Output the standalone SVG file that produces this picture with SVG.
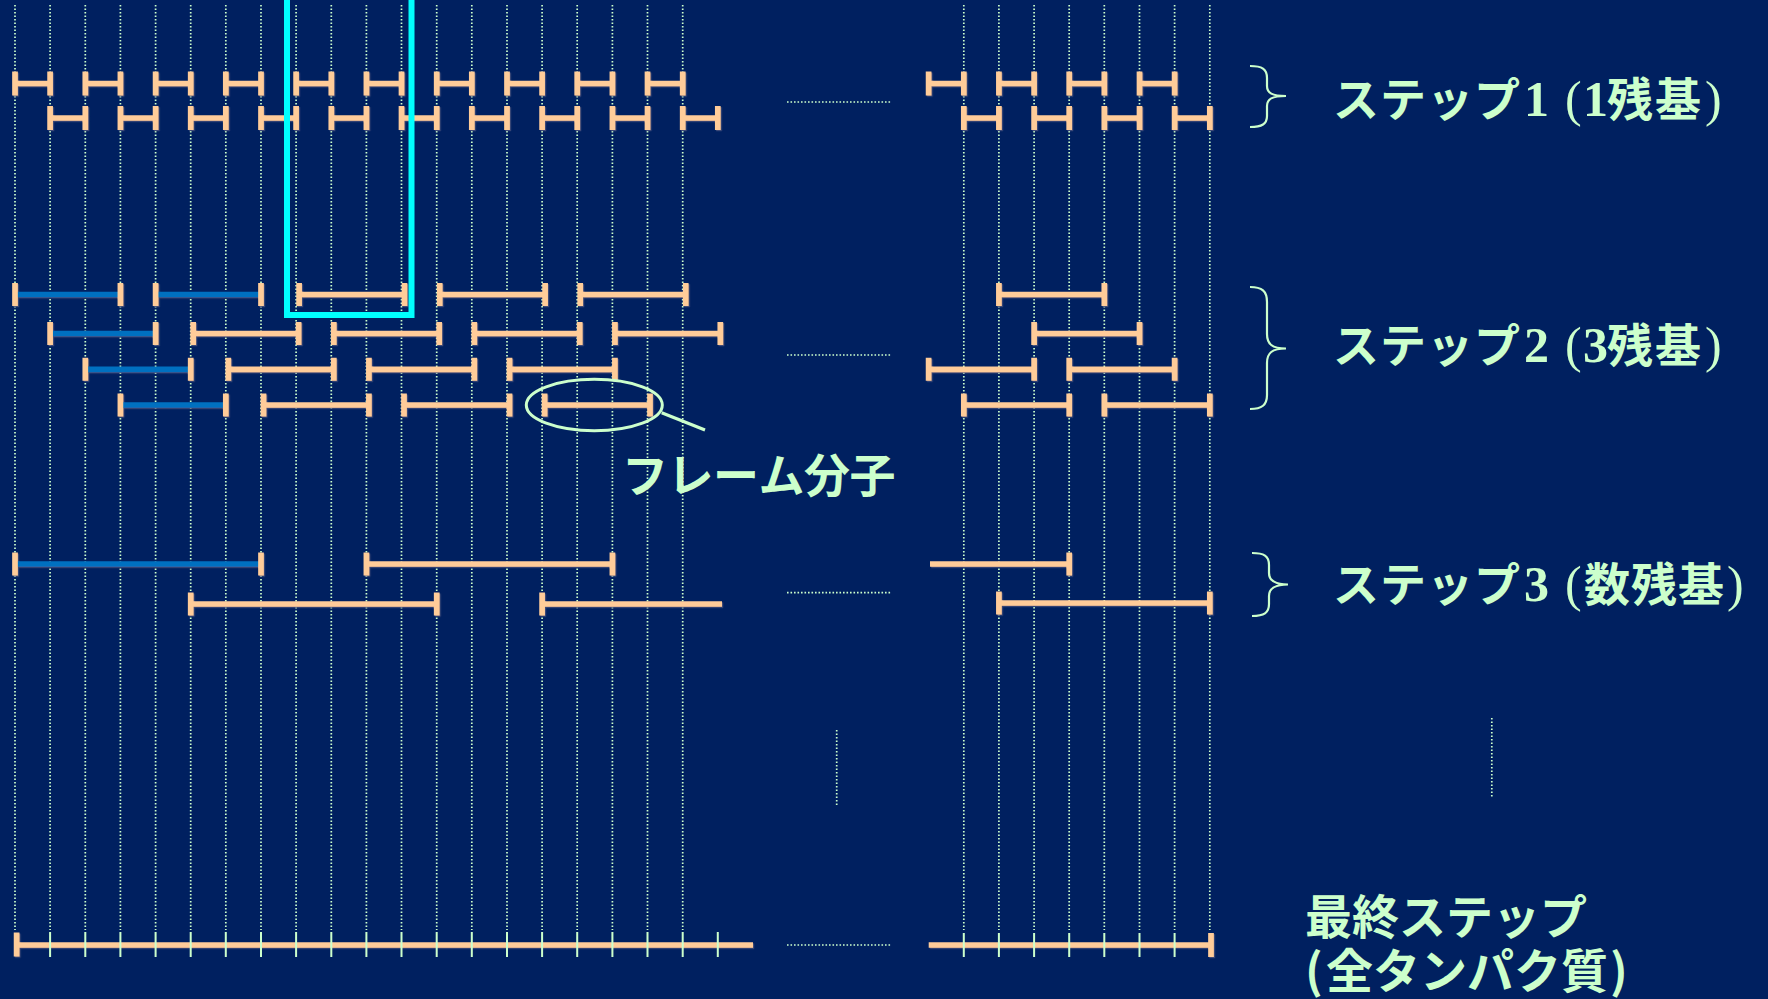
<svg xmlns="http://www.w3.org/2000/svg" width="1768" height="999" viewBox="0 0 1768 999">
<defs>
<style>
.grid{stroke:#CCFFCC;stroke-width:1.7;stroke-dasharray:1.6 1.9;fill:none}
.dots{stroke:#CCFFCC;stroke-width:1.7;stroke-dasharray:1.6 1.9;fill:none}
.pb{stroke:#FFCC99;stroke-width:5.7;fill:none}
.bb{stroke:#0070C0;stroke-width:5.7;fill:none}
.tick{stroke:#CCFFCC;stroke-width:2;fill:none}
.brace{stroke:#CCFFCC;stroke-width:2.2;fill:none}
.lbl{fill:#CCFFCC;font-family:"Noto Sans CJK JP","Noto Sans CJK SC",sans-serif;font-weight:700;font-size:46px}
.num{font-family:"Liberation Serif",serif;font-weight:700;font-size:50px}
.par{font-family:"Liberation Serif",serif;font-weight:400;font-size:50px}
</style>
<filter id="sh" x="-5%" y="-20%" width="110%" height="140%">
<feDropShadow dx="1.2" dy="1.2" stdDeviation="0.4" flood-color="#45507a" flood-opacity="0.9"/>
</filter>
</defs>
<rect width="1768" height="999" fill="#002060"/>

<g id="grid">
<path class="grid" d="M15,5V930M50.1,5V930M85.3,5V930M120.4,5V930M155.6,5V930M190.7,5V930M225.8,5V930M261,5V930M296.1,5V930M331.3,5V930M366.4,5V930M401.5,5V930M436.7,5V930M471.8,5V930M507,5V930M542.1,5V930M577.2,5V930M612.4,5V930M647.5,5V930M682.7,5V930M963.8,5V930M998.9,5V930M1034.1,5V930M1069.2,5V930M1104.3,5V930M1139.5,5V930M1174.6,5V930M1209.8,5V930"/>
</g>

<g id="ellipsis">
<path class="dots" d="M787,102H891M787,355H891M787,592.7H891M787,945H891"/>
<path class="dots" d="M836.7,730V806M1491.8,718V798"/>
</g>

<g id="step1" filter="url(#sh)">
<path class="pb" d="M15,83.5H50.1M15,71.5V95.5M50.1,71.5V95.5M85.3,83.5H120.4M85.3,71.5V95.5M120.4,71.5V95.5M155.6,83.5H190.7M155.6,71.5V95.5M190.7,71.5V95.5M225.8,83.5H261M225.8,71.5V95.5M261,71.5V95.5M296.1,83.5H331.3M296.1,71.5V95.5M331.3,71.5V95.5M366.4,83.5H401.5M366.4,71.5V95.5M401.5,71.5V95.5M436.7,83.5H471.8M436.7,71.5V95.5M471.8,71.5V95.5M507,83.5H542.1M507,71.5V95.5M542.1,71.5V95.5M577.2,83.5H612.4M577.2,71.5V95.5M612.4,71.5V95.5M647.5,83.5H682.7M647.5,71.5V95.5M682.7,71.5V95.5M928.6,83.5H963.8M928.6,71.5V95.5M963.8,71.5V95.5M998.9,83.5H1034.1M998.9,71.5V95.5M1034.1,71.5V95.5M1069.2,83.5H1104.3M1069.2,71.5V95.5M1104.3,71.5V95.5M1139.5,83.5H1174.6M1139.5,71.5V95.5M1174.6,71.5V95.5"/>
<path class="pb" d="M50.1,118H85.3M50.1,106V130M85.3,106V130M120.4,118H155.6M120.4,106V130M155.6,106V130M190.7,118H225.8M190.7,106V130M225.8,106V130M261,118H296.1M261,106V130M296.1,106V130M331.3,118H366.4M331.3,106V130M366.4,106V130M401.5,118H436.7M401.5,106V130M436.7,106V130M471.8,118H507M471.8,106V130M507,106V130M542.1,118H577.2M542.1,106V130M577.2,106V130M612.4,118H647.5M612.4,106V130M647.5,106V130M682.7,118H717.8M682.7,106V130M717.8,106V130M963.8,118H998.9M963.8,106V130M998.9,106V130M1034.1,118H1069.2M1034.1,106V130M1069.2,106V130M1104.3,118H1139.5M1104.3,106V130M1139.5,106V130M1174.6,118H1209.8M1174.6,106V130M1209.8,106V130"/>
</g>

<g id="step2" filter="url(#sh)">
<path class="bb" d="M15,294.5H120.4M155.6,294.5H261M50.1,333.5H155.6M85.3,369.3H190.7M120.4,405H225.8"/>
<path class="pb" d="M15,283V306M120.4,283V306M155.6,283V306M261,283V306M50.1,322V345M155.6,322V345M85.3,357.8V380.8M190.7,357.8V380.8M120.4,393.5V416.5M225.8,393.5V416.5"/>
<path class="pb" d="M299.1,294.5H404.5M299.1,283V306M404.5,283V306M439.7,294.5H545.1M439.7,283V306M545.1,283V306M580.2,294.5H685.7M580.2,283V306M685.7,283V306M998.9,294.5H1104.3M998.9,283V306M1104.3,283V306"/>
<path class="pb" d="M193.2,333.5H298.6M193.2,322V345M298.6,322V345M333.8,333.5H439.2M333.8,322V345M439.2,322V345M474.3,333.5H579.7M474.3,322V345M579.7,322V345M614.9,333.5H720.3M614.9,322V345M720.3,322V345M1034.1,333.5H1139.5M1034.1,322V345M1139.5,322V345"/>
<path class="pb" d="M228.3,369.3H333.8M228.3,357.8V380.8M333.8,357.8V380.8M368.9,369.3H474.3M368.9,357.8V380.8M474.3,357.8V380.8M509.5,369.3H614.9M509.5,357.8V380.8M614.9,357.8V380.8M928.6,369.3H1034.1M928.6,357.8V380.8M1034.1,357.8V380.8M1069.2,369.3H1174.6M1069.2,357.8V380.8M1174.6,357.8V380.8"/>
<path class="pb" d="M263.5,405H368.9M263.5,393.5V416.5M368.9,393.5V416.5M404,405H509.5M404,393.5V416.5M509.5,393.5V416.5M544.6,405H650M544.6,393.5V416.5M650,393.5V416.5M963.8,405H1069.2M963.8,393.5V416.5M1069.2,393.5V416.5M1104.3,405H1209.8M1104.3,393.5V416.5M1209.8,393.5V416.5"/>
</g>

<g id="step3" filter="url(#sh)">
<path class="bb" d="M15,564H261"/>
<path class="pb" d="M15,552.5V575.5M261,552.5V575.5"/>
<path class="pb" d="M366.4,564H612.4M366.4,552.5V575.5M612.4,552.5V575.5M930,564H1069.2M1069.2,552.5V575.5"/>
<path class="pb" d="M190.7,604H436.7M190.7,592.5V615.5M436.7,592.5V615.5M542.1,604H722M542.1,592.5V615.5M998.9,603H1209.8M998.9,591.5V614.5M1209.8,591.5V614.5"/>
</g>

<g id="final">
<path class="pb" filter="url(#sh)" d="M15,945H753M16.6,932.5V956.5M928.7,945H1211M1211,933V957"/>
<path class="tick" d="M50.1,932V957M85.3,932V957M120.4,932V957M155.6,932V957M190.7,932V957M225.8,932V957M261,932V957M296.1,932V957M331.3,932V957M366.4,932V957M401.5,932V957M436.7,932V957M471.8,932V957M507,932V957M542.1,932V957M577.2,932V957M612.4,932V957M647.5,932V957M682.7,932V957M717.8,932V957M963.8,933V957M998.9,933V957M1034.1,933V957M1069.2,933V957M1104.3,933V957M1139.5,933V957M1174.6,933V957"/>
</g>

<g id="frame-box">
<rect x="287" y="-10" width="124.5" height="325" fill="none" stroke="#00FFFF" stroke-width="6"/>
</g>

<g id="frame-callout">
<ellipse cx="594.3" cy="405" rx="68" ry="25.7" fill="none" stroke="#CCFFCC" stroke-width="3"/>
<path d="M661.7,412.7L705,430" stroke="#CCFFCC" stroke-width="3.2" fill="none"/>
<text class="lbl" y="492" x="622 667.5 713 758.5 804 849.5">フレーム分子</text>
</g>

<g id="label1">
<path class="brace" d="M1250,66C1262,66 1267,69 1267,78V86C1267,93 1272,96 1286,96C1272,96 1267,99 1267,106V116C1267,124 1262,127 1250,127"/>
<text class="lbl" y="116"><tspan x="1333 1380 1427 1474">ステップ</tspan><tspan class="num" x="1524">1</tspan><tspan class="par" x="1565">(</tspan><tspan class="num" x="1583">1</tspan><tspan x="1607 1655">残基</tspan><tspan class="par" x="1705">)</tspan></text>
</g>

<g id="label2">
<path class="brace" d="M1250,287C1262,287 1267,291 1267,302V334C1267,344 1272,348.5 1286,348.5C1272,348.5 1267,353 1267,363V395C1267,405 1262,409 1250,409"/>
<text class="lbl" y="362"><tspan x="1333 1380 1427 1474">ステップ</tspan><tspan class="num" x="1524">2</tspan><tspan class="par" x="1565">(</tspan><tspan class="num" x="1583">3</tspan><tspan x="1607 1655">残基</tspan><tspan class="par" x="1705">)</tspan></text>
</g>

<g id="label3">
<path class="brace" d="M1252,553C1264,553 1269,556 1269,565V573C1269,580 1274,584.5 1288,584.5C1274,584.5 1269,589 1269,596V604C1269,613 1264,616 1252,616"/>
<text class="lbl" y="601"><tspan x="1333 1380 1427 1474">ステップ</tspan><tspan class="num" x="1524">3</tspan><tspan class="par" x="1565">(</tspan><tspan x="1584 1631 1678">数残基</tspan><tspan class="par" x="1727">)</tspan></text>
</g>

<g id="label-final">
<text class="lbl" style="font-size:47px"><tspan y="934" x="1305 1352 1399 1446 1493 1540">最終ステップ</tspan><tspan y="988" x="1305 1326 1373 1420 1467 1514 1561 1610">(全タンパク質)</tspan></text>
</g>
</svg>
